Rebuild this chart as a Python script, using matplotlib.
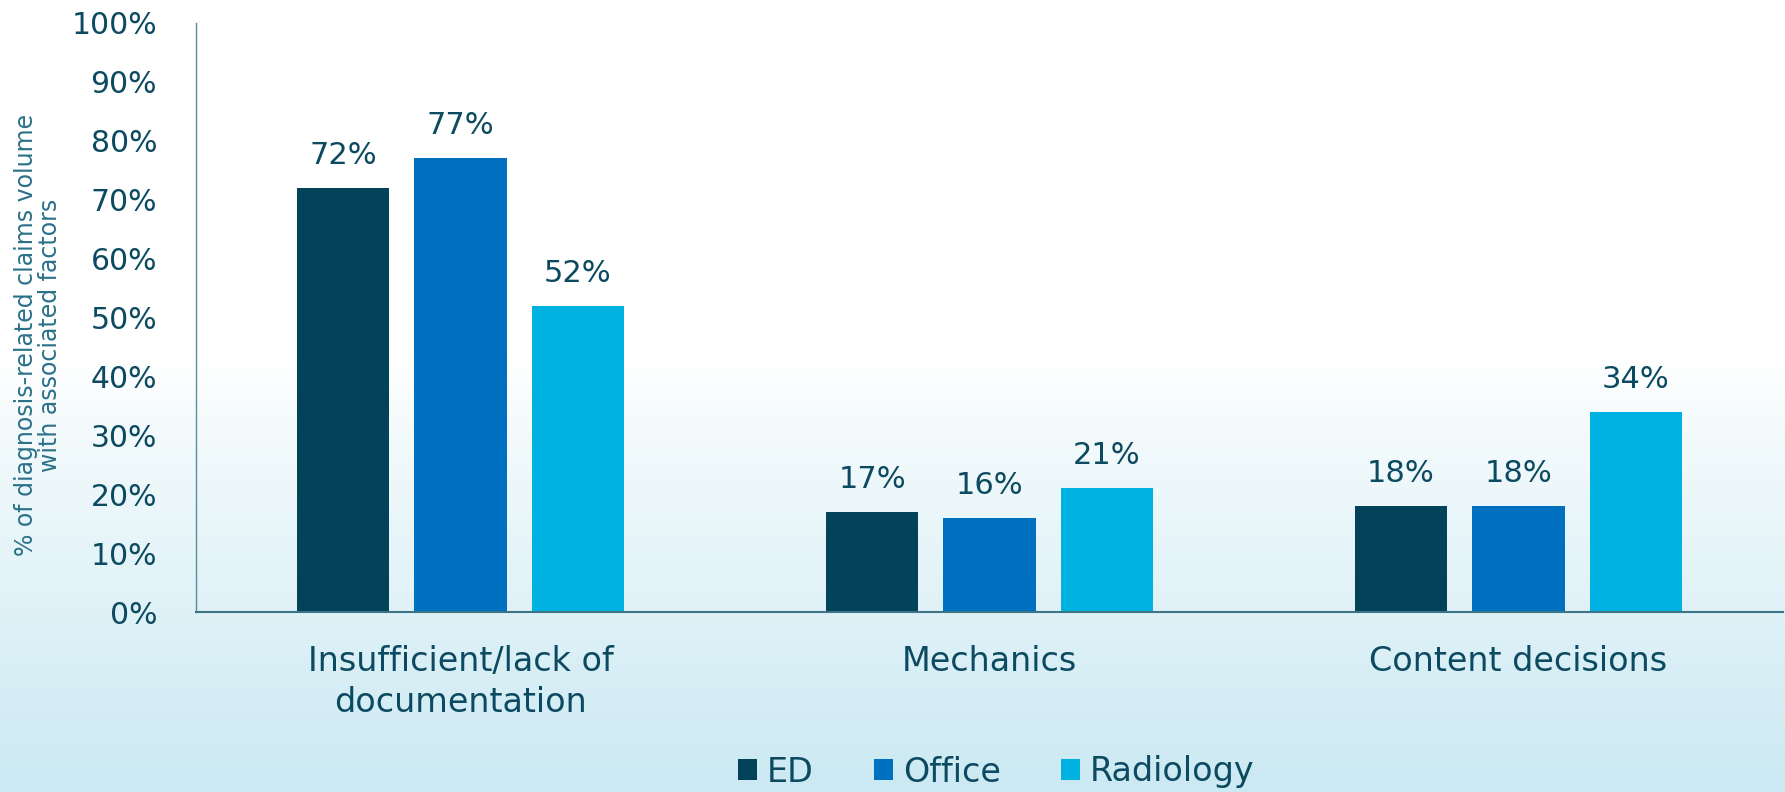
import matplotlib.pyplot as plt
import numpy as np
from matplotlib.colors import LinearSegmentedColormap

categories = ["Insufficient/lack of\ndocumentation", "Mechanics", "Content decisions"]
series_names = ["ED", "Office", "Radiology"]
ed = [72, 17, 18]
office = [77, 16, 18]
radiology = [52, 21, 34]
yticks = [0, 10, 20, 30, 40, 50, 60, 70, 80, 90, 100]

colors = ["#03435a", "#0070c0", "#00b2e1"]
text_color = "#0b4a60"

plt.rcParams['font.family'] = ['DejaVu Sans']

fig = plt.figure(figsize=(17.85, 7.92), dpi=100)

# Background gradient: white on top, light blue at the bottom
bg = fig.add_axes([0, 0, 1, 1], zorder=-10)
grad = np.linspace(0, 1, 256).reshape(-1, 1)
cmap = LinearSegmentedColormap.from_list(
    "bg", [(0.0, "#cbe9f3"), (0.45, "#f3fafc"), (0.55, "#ffffff"), (1.0, "#ffffff")])
bg.imshow(grad, aspect="auto", cmap=cmap, origin="lower", extent=[0, 1, 0, 1])
bg.axis("off")

ax = fig.add_axes([196 / 1785, 1 - 612 / 792, (1783 - 196) / 1785, (612 - 23) / 792])
ax.patch.set_alpha(0)

x = np.arange(len(categories))
width = 0.175
step = 0.222
for i, (name, vals) in enumerate(zip(series_names, [ed, office, radiology])):
    bars = ax.bar(x + (i - 1) * step, vals, width, color=colors[i], label=name)
    for b, v in zip(bars, vals):
        ax.annotate("{}%".format(v), (b.get_x() + b.get_width() / 2, v),
                    xytext=(0, 13), textcoords="offset points",
                    ha="center", va="bottom", fontsize=22, color=text_color)

ax.set_xlim(-0.5, 2.5)
ax.set_ylim(0, 100)
ax.set_yticks(yticks)
ax.set_yticklabels(["{}%".format(t) for t in yticks])
ax.set_xticks(x)
ax.set_xticklabels(categories, linespacing=1.3)
ax.tick_params(axis="y", length=0, pad=28, labelsize=21.5, labelcolor=text_color)
ax.tick_params(axis="x", length=0, pad=24, labelsize=24, labelcolor=text_color)

for s in ["top", "right"]:
    ax.spines[s].set_visible(False)
ax.spines["left"].set_color("#5a8ea0")
ax.spines["bottom"].set_color("#3d7486")
ax.spines["left"].set_linewidth(1.0)
ax.spines["bottom"].set_linewidth(1.5)

fig.text(38 / 1785, 1 - 335 / 792,
         "% of diagnosis-related claims volume\nwith associated factors",
         rotation=90, ha="center", va="center", fontsize=17,
         color="#2a7189", linespacing=1.0)

leg = fig.legend(loc="center", bbox_to_anchor=(0.558, 1 - 772 / 792), ncol=3,
                 frameon=False, fontsize=24, handlelength=0.57, handleheight=0.57,
                 handletextpad=0.3, columnspacing=1.8, labelcolor=text_color)

fig.savefig("out.png", dpi=100)
plt.close()
